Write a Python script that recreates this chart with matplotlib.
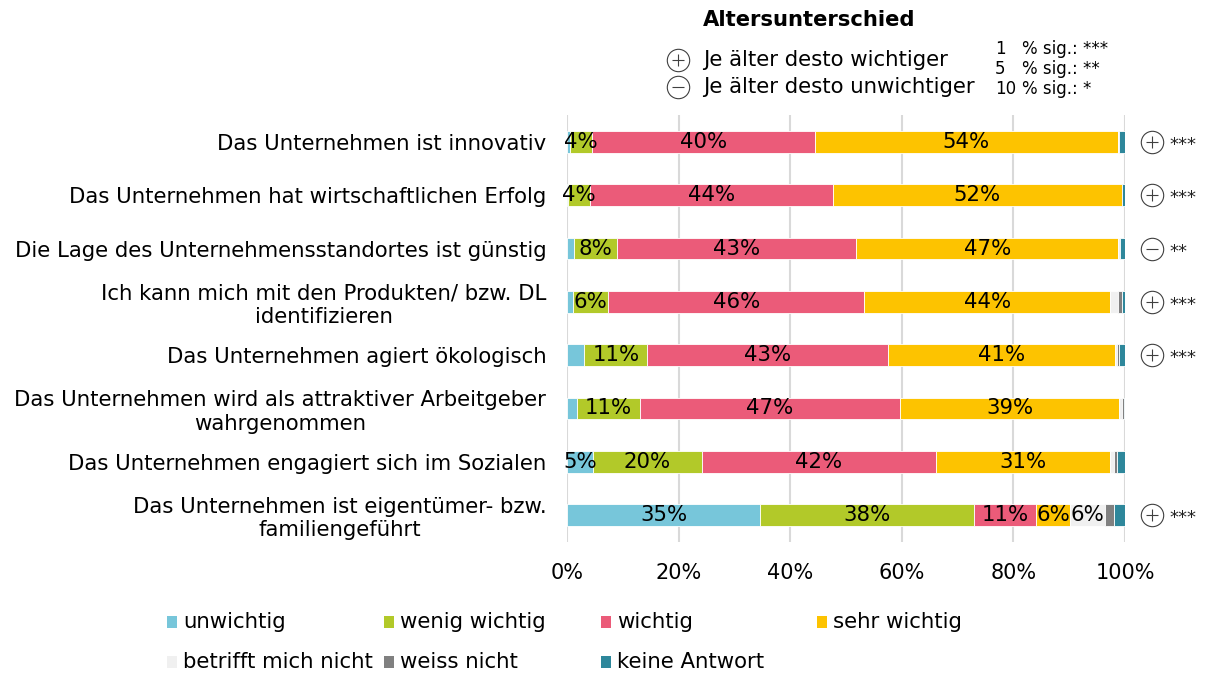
import matplotlib
matplotlib.use('Agg')
import matplotlib.pyplot as plt
from matplotlib.patches import Rectangle
import numpy as np

plt.rcParams['font.family'] = ['DejaVu Sans']

categories = [
    'Das Unternehmen ist innovativ',
    'Das Unternehmen hat wirtschaftlichen Erfolg',
    'Die Lage des Unternehmensstandortes ist günstig',
    'Ich kann mich mit den Produkten/ bzw. DL\nidentifizieren',
    'Das Unternehmen agiert ökologisch',
    'Das Unternehmen wird als attraktiver Arbeitgeber\nwahrgenommen',
    'Das Unternehmen engagiert sich im Sozialen',
    'Das Unternehmen ist eigentümer- bzw.\nfamiliengeführt',
]
series_names = ['unwichtig', 'wenig wichtig', 'wichtig', 'sehr wichtig',
                'betrifft mich nicht', 'weiss nicht', 'keine Antwort']
colors = ['#77C6DA', '#B2C929', '#EB5B79', '#FDC300', '#F0F0F0', '#808080', '#2E879B']

unwichtig = [0.6, 0.2, 1.3, 1.0, 3.1, 1.8, 4.6, 34.6]
wenig_wichtig = [3.8, 3.9, 7.7, 6.4, 11.3, 11.3, 19.6, 38.4]
wichtig = [40.0, 43.6, 42.8, 45.9, 43.1, 46.6, 41.9, 11.1]
sehr_wichtig = [54.3, 51.7, 47.0, 44.1, 40.7, 39.3, 31.3, 6.0]
betrifft_nicht = [0.3, 0.1, 0.3, 1.3, 0.3, 0.4, 0.7, 6.4]
weiss_nicht = [0.0, 0.0, 0.0, 0.7, 0.4, 0.4, 0.4, 1.5]
keine_antwort = [1.0, 0.5, 0.9, 0.6, 1.1, 0.2, 1.5, 2.0]
series = [unwichtig, wenig_wichtig, wichtig, sehr_wichtig,
          betrifft_nicht, weiss_nicht, keine_antwort]

direction = ['+', '+', '-', '+', '+', '', '', '+']
stars = ['***', '***', '**', '***', '***', '', '', '***']

xticks = [0, 20, 40, 60, 80, 100]
xticklabels = ['0%', '20%', '40%', '60%', '80%', '100%']

W, H = 1208, 673
fig = plt.figure(figsize=(W / 100, H / 100), dpi=100)

ax_left, ax_right = 567, 1125
ax_top, ax_bottom = 115.3, 541.7
ax = fig.add_axes([ax_left / W, 1 - ax_bottom / H,
                   (ax_right - ax_left) / W, (ax_bottom - ax_top) / H])

FS = 15.3
y = np.arange(len(categories))
left = np.zeros(len(categories))
for vals, name, col in zip(series, series_names, colors):
    vals = np.array(vals)
    bars = ax.barh(y, vals, left=left, height=0.41, color=col,
                   edgecolor='white', linewidth=0.6, label=name, zorder=3)
    labels = [f'{v:.0f}%' if v >= 3.5 else '' for v in vals]
    ax.bar_label(bars, labels=labels, label_type='center', fontsize=FS,
                 color='black', zorder=4)
    left += vals

ax.set_xlim(0, 100)
ax.set_ylim(len(categories) - 0.5, -0.5)
ax.set_xticks(xticks)
ax.set_xticklabels(xticklabels, fontsize=15)
ax.set_yticks(y)
ax.set_yticklabels(categories, fontsize=FS, multialignment='center')
ax.tick_params(axis='x', length=0, pad=15)
ax.tick_params(axis='y', length=0, pad=15)
ax.grid(axis='x', color='#D9D9D9', linewidth=1.5, zorder=0)
ax.set_axisbelow(True)
for s in ax.spines.values():
    s.set_visible(False)

# significance markers on the right
for i, (d, st) in enumerate(zip(direction, stars)):
    if not d:
        continue
    ax.scatter([104.8], [i], s=260, marker='o', facecolor='white',
               edgecolor='#404040', linewidth=0.8, clip_on=False, zorder=5)
    ax.scatter([104.8], [i], s=70, marker='+' if d == '+' else '_',
               color='#404040', linewidth=0.8, clip_on=False, zorder=6)
    ax.text(108.0, i + 0.06, st, fontsize=13, va='center', ha='left', color='#222222')

# overlay in pixel coordinates
ov = fig.add_axes([0, 0, 1, 1])
ov.set_xlim(0, W)
ov.set_ylim(H, 0)
ov.axis('off')

ov.text(809, 20, 'Altersunterschied', fontsize=15.2, fontweight='bold',
        ha='center', va='center')
for yy, sym, txt in [(60, '+', 'Je älter desto wichtiger'),
                     (87, '-', 'Je älter desto unwichtiger')]:
    ov.scatter([678], [yy], s=260, marker='o', facecolor='white',
               edgecolor='#404040', linewidth=0.8, zorder=5)
    ov.scatter([678], [yy], s=70, marker='+' if sym == '+' else '_',
               color='#404040', linewidth=0.8, zorder=6)
    ov.text(703, yy, txt, fontsize=FS, ha='left', va='center')
for yy, num, txt in [(49, '1', '% sig.: ***'), (69, '5', '% sig.: **'), (89, '10', '% sig.: *')]:
    ov.text(995, yy, num, fontsize=12, ha='left', va='center')
    ov.text(1022, yy, txt, fontsize=12, ha='left', va='center')

# bottom legend
col_x = [167, 384, 601, 817]
row_y = [622, 662]
for k, (name, col) in enumerate(zip(series_names, colors)):
    cx = col_x[k % 4]
    cy = row_y[k // 4]
    ov.add_patch(Rectangle((cx, cy - 6), 10, 12, facecolor=col, edgecolor='none'))
    ov.text(cx + 16, cy, name, fontsize=FS, ha='left', va='center')

fig.savefig('out.png', dpi=100)
